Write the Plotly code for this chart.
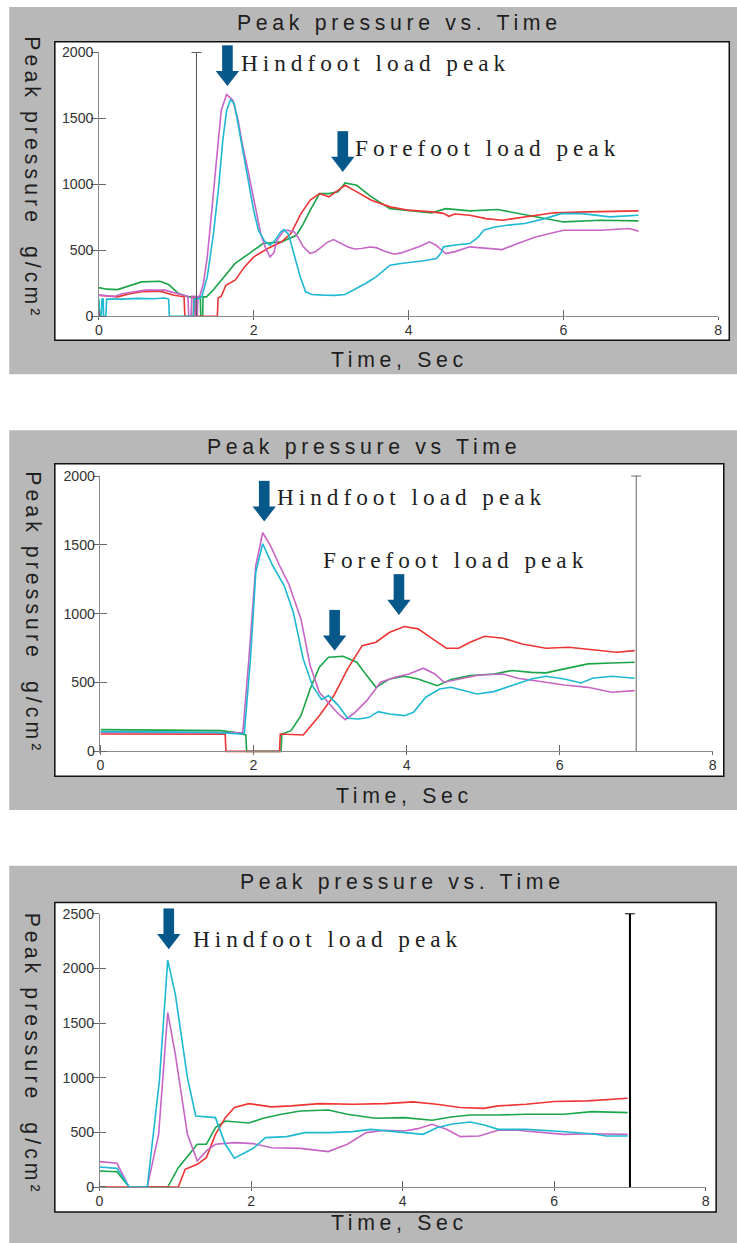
import plotly.graph_objects as go

W, H = 737, 1243

# ---------------- data ----------------
# Panel 1
p1_cyan_t = [0, 0.01, 0.03, 0.04, 0.055, 0.06, 0.09, 0.1, 0.3, 0.5, 0.7, 0.85, 0.9, 0.91, 1.22, 1.23, 1.3, 1.33, 1.4, 1.48, 1.55, 1.6, 1.65, 1.7, 1.75, 1.82, 1.88, 1.94, 2.0, 2.06, 2.14, 2.21, 2.28, 2.35, 2.39, 2.45, 2.52, 2.6, 2.67, 2.75, 2.9, 3.05, 3.18, 3.3, 3.45, 3.58, 3.7, 3.76, 3.9, 4.0, 4.2, 4.36, 4.42, 4.45, 4.6, 4.79, 4.9, 4.97, 5.1, 5.27, 5.5, 5.76, 5.97, 6.24, 6.6, 6.97]
p1_cyan = [130, 0, 0, 130, 130, 0, 0, 130, 130, 135, 132, 138, 130, 0, 0, 130, 135, 150, 300, 627, 1000, 1335, 1560, 1643, 1610, 1385, 1180, 981, 800, 652, 570, 538, 580, 640, 657, 620, 480, 300, 185, 165, 160, 158, 165, 200, 250, 298, 360, 387, 400, 407, 420, 437, 480, 526, 540, 551, 600, 652, 675, 690, 703, 740, 778, 778, 753, 766]

p1_mag_t = [0, 0.2, 0.3, 0.5, 0.6, 0.85, 0.95, 1.05, 1.15, 1.16, 1.19, 1.2, 1.24, 1.25, 1.27, 1.28, 1.3, 1.35, 1.4, 1.45, 1.52, 1.58, 1.65, 1.73, 1.8, 1.85, 1.91, 1.97, 2.03, 2.09, 2.15, 2.21, 2.26, 2.3, 2.39, 2.45, 2.52, 2.58, 2.64, 2.73, 2.8, 2.88, 2.95, 3.03, 3.1, 3.21, 3.3, 3.39, 3.5, 3.58, 3.7, 3.82, 3.9, 4.0, 4.15, 4.27, 4.35, 4.48, 4.6, 4.79, 5.0, 5.21, 5.4, 5.64, 6.0, 6.48, 6.85, 6.97]
p1_mag = [160, 150, 170, 190, 198, 198, 180, 165, 150, 0, 0, 150, 150, 0, 0, 150, 147, 250, 450, 753, 1200, 1562, 1681, 1638, 1480, 1310, 1150, 981, 800, 627, 520, 450, 480, 576, 652, 650, 640, 590, 526, 475, 490, 526, 560, 581, 560, 526, 510, 513, 525, 520, 490, 470, 480, 500, 530, 564, 540, 475, 490, 526, 515, 505, 550, 601, 652, 652, 665, 645]

p1_red_t = [0, 0.24, 0.4, 0.55, 0.79, 0.97, 1.1, 1.11, 1.22, 1.225, 1.24, 1.245, 1.53, 1.54, 1.58, 1.64, 1.76, 1.88, 2.0, 2.18, 2.36, 2.48, 2.61, 2.73, 2.85, 2.97, 3.06, 3.18, 3.33, 3.52, 3.76, 4.0, 4.3, 4.45, 4.52, 4.6, 4.79, 5.0, 5.21, 5.52, 5.88, 6.3, 6.6, 6.97]
p1_red = [159, 147, 170, 185, 190, 159, 147, 0, 0, 140, 140, 0, 0, 140, 150, 235, 273, 374, 450, 513, 564, 627, 778, 880, 930, 905, 943, 993, 943, 880, 829, 804, 791, 780, 758, 775, 766, 740, 728, 753, 784, 791, 795, 799]

p1_green_t = [0, 0.1, 0.24, 0.4, 0.55, 0.79, 0.9, 1.03, 1.15, 1.31, 1.315, 1.34, 1.345, 1.39, 1.48, 1.58, 1.76, 1.94, 2.12, 2.36, 2.55, 2.64, 2.73, 2.85, 2.97, 3.09, 3.18, 3.33, 3.52, 3.76, 4.0, 4.3, 4.48, 4.79, 5.15, 5.52, 6.0, 6.48, 6.97]
p1_green = [217, 205, 202, 230, 260, 265, 240, 172, 147, 147, 0, 0, 147, 147, 200, 273, 400, 475, 551, 564, 614, 700, 804, 930, 930, 943, 1011, 993, 905, 816, 804, 784, 816, 799, 809, 766, 715, 728, 723]

# Panel 2
p2_red_t = [0, 0.5, 1.0, 1.5, 1.63, 1.64, 2.34, 2.35, 2.65, 2.86, 3.05, 3.23, 3.42, 3.6, 3.78, 3.97, 4.15, 4.34, 4.52, 4.68, 4.83, 5.02, 5.26, 5.51, 5.82, 6.12, 6.43, 6.74, 6.98]
p2_red = [126, 125, 126, 125, 125, 0, 0, 126, 119, 259, 405, 599, 768, 793, 865, 907, 890, 817, 749, 749, 793, 836, 822, 780, 749, 756, 739, 720, 732]

p2_green_t = [0, 0.5, 1.0, 1.57, 1.75, 1.88, 1.9, 1.91, 2.36, 2.37, 2.49, 2.62, 2.74, 2.86, 2.98, 3.17, 3.35, 3.48, 3.6, 3.78, 3.97, 4.15, 4.4, 4.58, 4.83, 5.14, 5.38, 5.63, 5.82, 6.06, 6.37, 6.68, 6.98]
p2_green = [158, 157, 155, 150, 138, 119, 119, 0, 0, 126, 150, 259, 453, 611, 684, 691, 647, 550, 465, 526, 545, 526, 477, 521, 550, 562, 587, 574, 570, 599, 635, 642, 647]

p2_mag_t = [0, 0.5, 1.0, 1.5, 1.75, 1.86, 1.94, 2.03, 2.12, 2.22, 2.34, 2.46, 2.62, 2.74, 2.86, 2.98, 3.11, 3.2, 3.32, 3.48, 3.66, 3.85, 4.03, 4.22, 4.37, 4.49, 4.68, 4.95, 5.26, 5.45, 5.75, 6.06, 6.37, 6.68, 6.98]
p2_mag = [138, 137, 136, 137, 135, 135, 671, 1350, 1588, 1496, 1350, 1217, 962, 623, 429, 356, 271, 230, 279, 368, 502, 538, 562, 604, 562, 502, 526, 555, 562, 531, 507, 482, 465, 429, 441]

p2_cyan_t = [0, 0.5, 1.0, 1.5, 1.82, 1.88, 1.96, 2.03, 2.12, 2.25, 2.4, 2.52, 2.65, 2.77, 2.89, 2.98, 3.11, 3.23, 3.38, 3.51, 3.63, 3.78, 3.97, 4.09, 4.25, 4.43, 4.58, 4.74, 4.92, 5.14, 5.38, 5.63, 5.82, 6.06, 6.28, 6.43, 6.68, 6.98]
p2_cyan = [143, 142, 140, 138, 126, 130, 671, 1302, 1508, 1350, 1205, 1011, 671, 477, 376, 405, 332, 240, 235, 247, 288, 271, 259, 284, 393, 453, 465, 441, 417, 434, 477, 526, 545, 526, 497, 531, 545, 531]

# Panel 3
p3_mag_t = [0, 0.23, 0.39, 0.63, 0.78, 0.9, 1.0, 1.16, 1.29, 1.41, 1.53, 1.78, 2.03, 2.27, 2.65, 3.02, 3.27, 3.52, 3.77, 4.02, 4.2, 4.39, 4.58, 4.76, 5.01, 5.26, 5.51, 5.82, 6.13, 6.5, 6.97]
p3_mag = [232, 217, 0, 0, 482, 1597, 1215, 482, 238, 330, 391, 406, 397, 360, 354, 324, 391, 498, 519, 513, 534, 574, 528, 461, 467, 519, 519, 498, 482, 488, 482]

p3_cyan_t = [0, 0.23, 0.39, 0.63, 0.79, 0.9, 1.0, 1.16, 1.27, 1.53, 1.66, 1.78, 2.03, 2.19, 2.47, 2.71, 3.02, 3.34, 3.58, 4.02, 4.27, 4.45, 4.64, 4.89, 5.08, 5.26, 5.63, 6.0, 6.5, 6.69, 6.97]
p3_cyan = [183, 171, 0, 0, 971, 2076, 1765, 1001, 650, 635, 391, 263, 354, 452, 461, 498, 498, 507, 528, 498, 482, 543, 574, 595, 568, 528, 528, 513, 488, 467, 467]

p3_red_t = [0, 1.04, 1.13, 1.29, 1.41, 1.53, 1.66, 1.78, 1.97, 2.09, 2.27, 2.53, 2.9, 3.34, 3.77, 4.14, 4.45, 4.76, 5.07, 5.26, 5.63, 6.0, 6.44, 6.97]
p3_red = [0, 0, 162, 208, 269, 482, 635, 727, 763, 751, 733, 742, 763, 757, 763, 779, 757, 727, 720, 742, 757, 782, 788, 812]

p3_green_t = [0, 0.23, 0.39, 0.9, 1.04, 1.29, 1.41, 1.53, 1.66, 1.97, 2.16, 2.4, 2.65, 3.02, 3.27, 3.64, 4.02, 4.39, 4.64, 4.89, 5.26, 5.63, 6.13, 6.5, 6.97]
p3_green = [147, 140, 0, 0, 177, 391, 391, 543, 604, 586, 629, 666, 696, 705, 666, 629, 635, 611, 641, 659, 659, 666, 666, 690, 681]

# marker lines (time, top value) per panel
vline_t = [1.26, 7.0, 7.0]
y_max = [2000, 2000, 2500]
x_ticks = [0, 2, 4, 6, 8]
y_ticks = [[0, 500, 1000, 1500, 2000], [0, 500, 1000, 1500, 2000], [0, 500, 1000, 1500, 2000, 2500]]

titles = ["Peak pressure vs. Time", "Peak pressure vs Time", "Peak pressure vs. Time"]
x_title = "Time, Sec"
y_title = "Peak pressure\u00a0 g/cm\u00b2"

# arrows: (panel, time, value at arrow tip)
arrows = [(0, 1.66, 1746), (0, 3.15, 1095), (1, 2.14, 1670), (1, 3.06, 732), (1, 3.9, 992), (2, 0.914, 2177)]
labels = [(0, "Hindfoot load peak"), (0, "Forefoot load peak"), (1, "Hindfoot load peak"),
          (1, "Forefoot load peak"), (2, "Hindfoot load peak")]

series = [
    [(p1_green_t, p1_green, 'green'), (p1_red_t, p1_red, 'red'), (p1_mag_t, p1_mag, 'magenta'), (p1_cyan_t, p1_cyan, 'cyan')],
    [(p2_green_t, p2_green, 'green'), (p2_red_t, p2_red, 'red'), (p2_mag_t, p2_mag, 'magenta'), (p2_cyan_t, p2_cyan, 'cyan')],
    [(p3_green_t, p3_green, 'green'), (p3_red_t, p3_red, 'red'), (p3_mag_t, p3_mag, 'magenta'), (p3_cyan_t, p3_cyan, 'cyan')],
]

# ---------------- styling / layout geometry (target pixels) ----------------
COLORS = dict(red='#ee3535', green='#1ba54a', cyan='#1fb9d2', magenta='#c766c6')
GRAY = '#b8b8b8'
ARROW = '#07588a'
TXT = '#1e1e1e'

# the captured page is shrunk slightly about its centre; pre-compensate positions and sizes
S = 0.987
OX = W * (1 - S) / 2
OY = H * (1 - S) / 2

def PX(v):
    return ((v - OX) / S) / W

def PY(v):
    return 1 - ((v - OY) / S) / H

def SZ(v):
    return v / S

geo = [
    dict(gray=(10, 745, 7, 374), white=(55.5, 728.5, 41.7, 340), x0=99.5, x8=717.5, y0=316, ytop=52.5,
         title=(399, 23), xt=(399.5, 360), yt=(33, 177.5), vcol='#555555', vw=1,
         lab=[(239.2, 63.5), (353.5, 148)]),
    dict(gray=(10, 745, 430, 809.3), white=(55.5, 723, 463.3, 775.7), x0=101, x8=712, y0=750.7, ytop=475.7,
         title=(364, 446.7), xt=(404, 795), yt=(33, 612), vcol='#666666', vw=1,
         lab=[(275.2, 496.5), (320.8, 560)]),
    dict(gray=(10, 745, 865, 1252), white=(55.5, 715.4, 901.7, 1211), x0=100.1, x8=705, y0=1186, ytop=913,
         title=(402, 881.7), xt=(399.5, None), yt=(33, 1053), vcol='#000000', vw=2,
         lab=[(191.5, 938.5)]),
]

def spaced(s, ls):
    return '<span style="letter-spacing:%.2fpx">%s</span>' % (SZ(ls), s)

fig = go.Figure()
shapes = []
annotations = []
layout_axes = {}
YPAD = 12
scales = []
TICKC = '#666666'

for i, g in enumerate(geo):
    n = i + 1
    xa, ya = 'x%d' % n, 'y%d' % n
    gx0, gx1, gy0, gy1 = g['gray']
    shapes.append(dict(type='rect', xref='paper', yref='paper', x0=PX(gx0), x1=PX(gx1), y0=PY(gy1), y1=PY(gy0),
                       fillcolor=GRAY, line=dict(width=0), layer='below'))
    wx0, wx1, wy0, wy1 = g['white']
    shapes.append(dict(type='rect', xref='paper', yref='paper', x0=PX(wx0), x1=PX(wx1), y0=PY(wy1), y1=PY(wy0),
                       fillcolor='white', line=dict(color='#111111', width=SZ(1.5)), layer='below'))
    ymx = y_max[i]
    k = (g['y0'] - g['ytop']) / ymx   # target px per unit
    scales.append(k)
    ydom = [PY(g['y0'] + YPAD * k), PY(g['ytop'])]
    xdom = [PX(g['x0']), PX(g['x8'])]
    tickfont = dict(family='Liberation Sans, Arial, sans-serif', size=SZ(14), color='#333333')
    layout_axes['xaxis%d' % n] = dict(domain=xdom, range=[0, 8], anchor='free', position=PY(g['y0']),
                                      tickvals=x_ticks, ticks='outside', ticklen=SZ(3), tickcolor=TICKC,
                                      minor=dict(tickvals=[v + 0.002 for v in x_ticks], ticks='inside',
                                                 ticklen=SZ(6), tickcolor=TICKC, showgrid=False),
                                      showline=True, linecolor='#8a8a8a', linewidth=1, showgrid=False,
                                      zeroline=False, tickfont=tickfont, ticklabelstandoff=-2)
    layout_axes['yaxis%d' % n] = dict(domain=ydom, range=[-YPAD, ymx], anchor=xa, tickvals=y_ticks[i],
                                      ticks='outside', ticklen=SZ(6.5), tickcolor=TICKC,
                                      minor=dict(tickvals=[v + 0.5 for v in y_ticks[i]], ticks='inside',
                                                 ticklen=SZ(6.5), tickcolor=TICKC, showgrid=False),
                                      showline=True, linecolor='#8a8a8a', linewidth=1, showgrid=False,
                                      zeroline=False, tickfont=tickfont, ticklabelstandoff=-5)

    for t, v, c in series[i]:
        fig.add_trace(go.Scatter(x=t, y=v, xaxis=xa, yaxis=ya, mode='lines',
                                 line=dict(color=COLORS[c], width=SZ(1.6)), showlegend=False, hoverinfo='skip'))
    fig.add_trace(go.Scatter(x=[vline_t[i], vline_t[i]], y=[0, ymx], xaxis=xa, yaxis=ya, mode='lines+markers',
                             line=dict(color=g['vcol'], width=SZ(g['vw'])),
                             marker=dict(symbol='line-ew', size=[0, SZ(7)], color=g['vcol'], opacity=1,
                                         line=dict(color=g['vcol'], width=1)),
                             cliponaxis=False, showlegend=False, hoverinfo='skip'))

    big = dict(family='Liberation Sans, Arial, sans-serif', size=SZ(21), color=TXT)
    annotations.append(dict(xref='paper', yref='paper', x=PX(g['title'][0]), y=PY(g['title'][1]),
                            text=spaced(titles[i], 4.6), showarrow=False, font=big,
                            xanchor='center', yanchor='middle'))
    if g['xt'][1] is None:
        # bottom panel: keep the axis title fully inside the page
        annotations.append(dict(xref='paper', yref='paper', x=PX(g['xt'][0]), y=0,
                                text=spaced(x_title, 4.6), showarrow=False, font=big, borderpad=0,
                                xanchor='center', yanchor='bottom'))
    else:
        annotations.append(dict(xref='paper', yref='paper', x=PX(g['xt'][0]), y=PY(g['xt'][1]),
                                text=spaced(x_title, 4.6), showarrow=False, font=big,
                                xanchor='center', yanchor='middle'))
    annotations.append(dict(xref='paper', yref='paper', x=PX(g['yt'][0]), y=PY(g['yt'][1]),
                            text=spaced(y_title, 4.0), showarrow=False, font=big, textangle=90,
                            xanchor='center', yanchor='middle'))

# text labels
serif = dict(family='Liberation Serif, Times New Roman, serif', size=SZ(23), color=TXT)
cnt = {}
for p, s in labels:
    j = cnt.get(p, 0)
    cnt[p] = j + 1
    lx, ly = geo[p]['lab'][j]
    annotations.append(dict(xref='paper', yref='paper', x=PX(lx), y=PY(ly), text=spaced(s, 4.9),
                            showarrow=False, font=serif, xanchor='left', yanchor='middle'))

# block arrows: shaft (line-ns marker) + head (triangle-down marker), placed relative to the tip
SHAFT_VIS, SHAFT_W, HEAD_SIZE = 29, 10.5, 20
for p, t, v in arrows:
    n = p + 1
    k = scales[p]
    shaft_c = v + (HEAD_SIZE / 2 + 3 + SHAFT_VIS / 2) / k
    head_c = v + (HEAD_SIZE / 2) / k
    fig.add_trace(go.Scatter(x=[t, t], y=[shaft_c, head_c], xaxis='x%d' % n, yaxis='y%d' % n, mode='markers',
                             marker=dict(symbol=['line-ns', 'triangle-down'],
                                         size=[SZ(SHAFT_VIS - SHAFT_W), SZ(HEAD_SIZE)],
                                         color=ARROW, opacity=1, line=dict(color=ARROW, width=[SZ(SHAFT_W), 0])),
                             cliponaxis=False, showlegend=False, hoverinfo='skip'))

fig.update_layout(width=W, height=H, margin=dict(l=0, r=0, t=0, b=0), paper_bgcolor='white',
                  plot_bgcolor='rgba(0,0,0,0)', shapes=shapes, annotations=annotations, **layout_axes)

POST = ("document.documentElement.style.margin='0';document.documentElement.style.padding='0';"
        "document.documentElement.style.overflow='hidden';"
        "document.body.style.margin='0';document.body.style.padding='0';document.body.style.overflow='hidden';"
        "var gd=document.getElementsByClassName('plotly-graph-div')[0];"
        "gd.style.position='absolute';gd.style.left='0px';gd.style.top='0px';")

fig.write_html("out.html", config={'displayModeBar': False}, post_script=POST)
